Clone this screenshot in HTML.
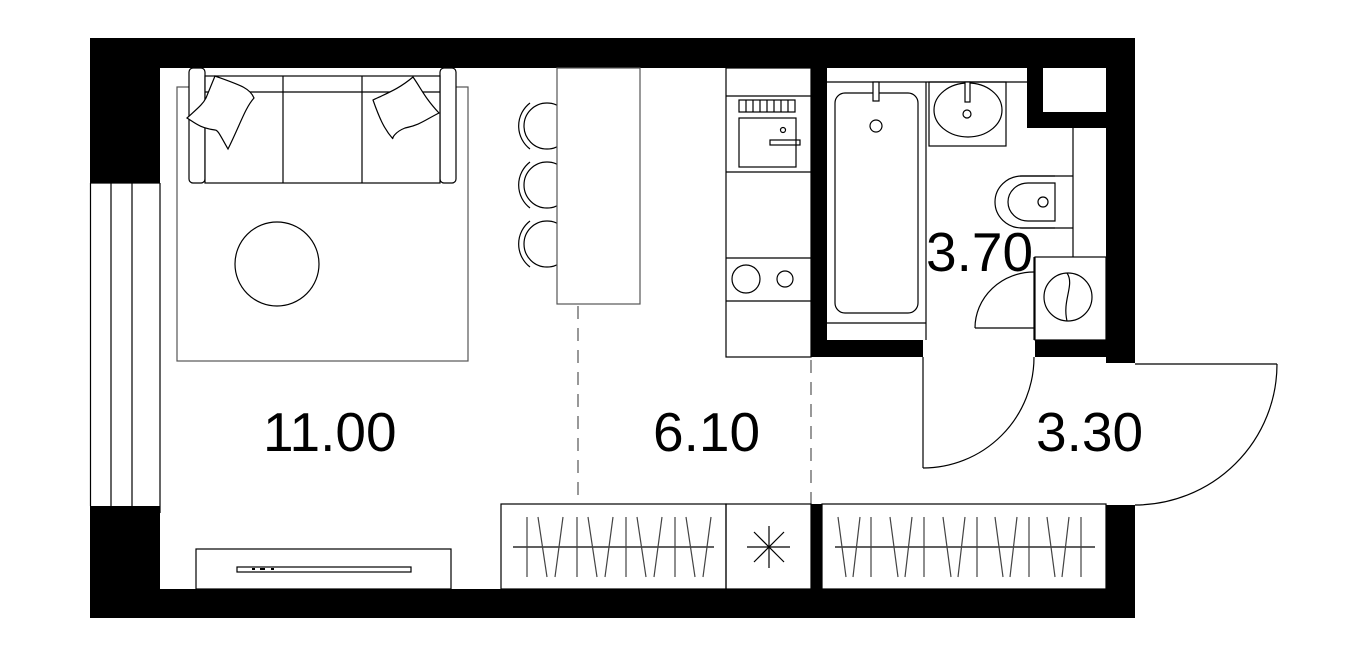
<!DOCTYPE html>
<html><head><meta charset="utf-8"><style>
html,body{margin:0;padding:0;background:#fff;}
svg{display:block;}
text{font-family:"Liberation Sans",sans-serif;font-size:55px;fill:#000;}
</style></head><body>
<svg width="1365" height="657" viewBox="0 0 1365 657" xmlns="http://www.w3.org/2000/svg">
<g fill="#000">
<rect x="90" y="38" width="1045" height="30"/>
<rect x="90" y="38" width="70" height="145"/>
<rect x="90" y="506" width="70" height="112"/>
<rect x="90" y="589" width="1045" height="29"/>
<rect x="1106" y="38" width="29" height="325"/>
<rect x="1106" y="505" width="29" height="113"/>
<rect x="811" y="68" width="16" height="289"/>
<rect x="811" y="340" width="112" height="17"/>
<rect x="1035" y="340" width="71" height="17"/>
<rect x="1027" y="68" width="16" height="60"/>
<rect x="1027" y="112" width="79" height="16"/>
<rect x="811" y="504" width="11" height="85"/>
</g>
<g fill="none" stroke="#000" stroke-width="1.2">
<line x1="90.5" y1="183" x2="90.5" y2="506"/>
<line x1="111" y1="183" x2="111" y2="513"/>
<line x1="132" y1="183" x2="132" y2="513"/>
<line x1="160" y1="183" x2="160" y2="513"/>
<line x1="90" y1="183" x2="160" y2="183"/>
<rect x="177" y="87" width="291" height="274" stroke="#555"/>
<rect x="189" y="68" width="16" height="115" rx="4" fill="#fff"/>
<rect x="440" y="68" width="16" height="115" rx="4" fill="#fff"/>
<rect x="205" y="76" width="235" height="107" fill="#fff"/>
<line x1="205" y1="92" x2="440" y2="92"/>
<line x1="283" y1="76" x2="283" y2="183"/>
<line x1="362" y1="76" x2="362" y2="183"/>
<path d="M215,76 C240,85 250,88 254,98 C245,108 240,125 228,149 C220,135 218,130 215,130 C200,128 195,123 187,118 C198,108 203,104 206,98 Z" fill="#fff"/>
<path d="M373,100 C390,92 400,88 413,77 C422,90 425,98 439,113 C425,120 420,125 405,128 C395,132 392,138 393,139 C385,130 380,120 373,100 Z" fill="#fff"/>
<circle cx="277" cy="264" r="42"/>
<circle cx="547" cy="126" r="23"/>
<circle cx="547" cy="185" r="23"/>
<circle cx="547" cy="244" r="23"/>
<path d="M530,103 A29,29 0 0 0 530,149"/>
<path d="M530,162 A29,29 0 0 0 530,208"/>
<path d="M530,221 A29,29 0 0 0 530,267"/>
<rect x="557" y="68" width="83" height="236" fill="#fff" stroke="#555"/>
<line x1="578" y1="306" x2="578" y2="504" stroke="#555" stroke-dasharray="13,9"/>
<line x1="811" y1="360" x2="811" y2="504" stroke="#555" stroke-dasharray="13,9"/>
<rect x="726" y="68" width="85" height="289"/>
<line x1="726" y1="96" x2="811" y2="96"/>
<line x1="726" y1="172" x2="811" y2="172"/>
<line x1="726" y1="258" x2="811" y2="258"/>
<line x1="726" y1="301" x2="811" y2="301"/>
<rect x="739" y="100" width="56" height="12"/>
<path d="M746,100v12M753,100v12M760,100v12M767,100v12M774,100v12M781,100v12M788,100v12"/>
<rect x="739" y="118" width="57" height="49"/>
<circle cx="783" cy="130" r="2.5"/>
<rect x="770" y="140" width="30" height="5"/>
<circle cx="746" cy="279" r="14"/>
<circle cx="785" cy="279" r="8"/>
<line x1="827" y1="82" x2="1027" y2="82"/>
<line x1="926" y1="82" x2="926" y2="340"/>
<line x1="827" y1="323" x2="926" y2="323"/>
<rect x="835" y="93" width="83" height="220" rx="10"/>
<rect x="873" y="82" width="6" height="19" fill="#fff"/>
<circle cx="876" cy="126" r="6"/>
<rect x="929" y="82" width="77" height="64"/>
<ellipse cx="968" cy="110" rx="34" ry="27"/>
<rect x="965" y="82" width="5" height="20" fill="#fff"/>
<circle cx="967" cy="114" r="4"/>
<line x1="1073" y1="128" x2="1073" y2="257"/>
<line x1="1020" y1="176" x2="1073" y2="176"/>
<line x1="1020" y1="228" x2="1073" y2="228"/>
<path d="M1055,176 L1022,176 A27,26 0 0 0 1022,228 L1055,228"/>
<path d="M1055,183 L1028,183 A20,19 0 0 0 1028,221 L1055,221 Z"/>
<circle cx="1043" cy="202" r="5"/>
<rect x="1035" y="257" width="71" height="83"/>
<circle cx="1068" cy="297" r="24"/>
<path d="M1067,273 C1075,285 1062,300 1067,321"/>
<line x1="1034" y1="257" x2="1034" y2="340"/>
<line x1="975" y1="328" x2="1034" y2="328"/>
<path d="M975,328 A59,56 0 0 1 1034,272"/>
<line x1="923" y1="357" x2="923" y2="468"/>
<path d="M923,468 A111,111 0 0 0 1034,357"/>
<line x1="1135" y1="364" x2="1277" y2="364"/>
<path d="M1277,364 A142,141 0 0 1 1135,505"/>
<rect x="196" y="549" width="255" height="40"/>
<rect x="237" y="567" width="174" height="5"/>
<path d="M252,569h3M260,569h5M271,569h3" stroke-width="2"/>
<rect x="501" y="504" width="225" height="85"/>
<rect x="726" y="504" width="85" height="85"/>
<rect x="822" y="504" width="284" height="85"/>
<line x1="513" y1="547" x2="714" y2="547"/>
<g stroke="#444">
<path d="M527,517v60M538,517L547,577M555,577L563,517"/>
<path d="M577,517v60M588,517L597,577M605,577L613,517"/>
<path d="M626,517v60M637,517L646,577M654,577L662,517"/>
<path d="M675,517v60M686,517L695,577M703,577L711,517"/>
</g>
<line x1="747" y1="547" x2="790" y2="547"/>
<line x1="769" y1="526" x2="769" y2="568"/>
<line x1="754" y1="532" x2="784" y2="562"/>
<line x1="784" y1="532" x2="754" y2="562"/>
<line x1="835" y1="547" x2="1095" y2="547"/>
<g stroke="#444">
<path d="M838,517L846,577M853,577L860,517M871,517v60"/>
<path d="M890,517L898,577M905,577L912,517M924,517v60"/>
<path d="M943,517L951,577M958,577L965,517M977,517v60"/>
<path d="M995,517L1003,577M1010,577L1017,517M1029,517v60"/>
<path d="M1047,517L1055,577M1062,577L1069,517M1081,517v60"/>
</g>
</g>
<text x="263" y="451">11.00</text>
<text x="653" y="451">6.10</text>
<text x="1036" y="451">3.30</text>
<text x="926" y="271">3.70</text>
</svg>
</body></html>
